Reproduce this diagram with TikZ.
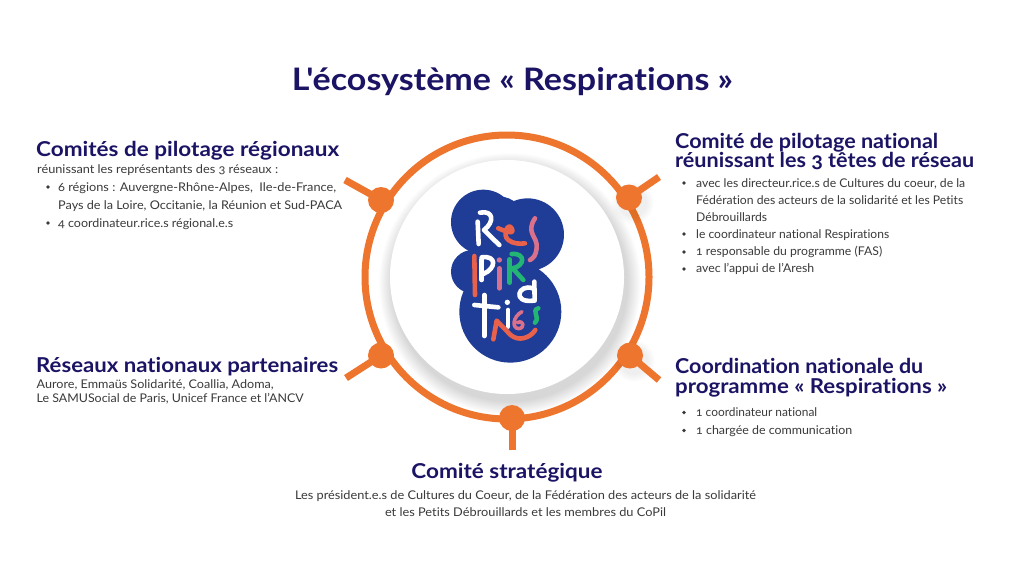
\documentclass[tikz,border=0pt]{standalone}
\usepackage{fontspec}
\usepackage{graphicx}
\setmainfont[Ligatures=NoCommon,Numbers=OldStyle]{Lato}
\newfontfamily\titlef[Ligatures={TeXOff,NoCommon},Numbers=OldStyle]{Lato}
\definecolor{ink}{HTML}{1B1464}
\definecolor{body}{HTML}{3A3A3A}
\definecolor{ringc}{HTML}{EE752E}
\definecolor{blob}{HTML}{1F3C96}
\definecolor{lred}{HTML}{E8614A}
\definecolor{lpink}{HTML}{D9708C}
\definecolor{lgreen}{HTML}{22B573}
\newcommand{\fw}[2]{\resizebox{#1pt}{\height}{#2}}
\tikzset{
 ttl/.style={anchor=base,inner sep=0,text=ink,font=\fontsize{31}{31}\titlef\bfseries},
 head/.style={anchor=base west,inner sep=0,text=ink,font=\fontsize{20.5}{20}\selectfont\bfseries},
 headc/.style={anchor=base,inner sep=0,text=ink,font=\fontsize{20.5}{20}\selectfont\bfseries},
 txt/.style={anchor=base west,inner sep=0,text=body,font=\fontsize{12}{12}\selectfont},
 txtc/.style={anchor=base,inner sep=0,text=body,font=\fontsize{12}{12}\selectfont},
 bul/.style={circle,fill=body,inner sep=0,minimum size=3.6pt},
 hub/.style={circle,fill=ringc,inner sep=0,minimum size=26pt},
 spoke/.style={draw=ringc,line width=7pt},
 ltr/.style={line width=4.6pt,line cap=round,line join=round},
}
\begin{document}
\begin{tikzpicture}[x=1pt,y=-1pt]
\useasboundingbox (0,0) rectangle (1024,576);
\fill[white] (0,0) rectangle (1024,576);
% title
\node[ttl] (title) at (512.5,90) {\fw{441}{L'écosystème « Respirations »}};
% ring
\coordinate (c) at (507,277);
\foreach \i in {20,...,1}{
  \fill[black,opacity=0.008] (510,284) circle ({117+\i*0.7});
}
\fill[white] (c) circle (117);
\draw[ringc,line width=7pt] (c) circle (142);
\foreach \i in {8,...,1}{
  \fill[black,opacity=0.006] (633,203) circle ({13+\i});
  \fill[black,opacity=0.006] (634,361) circle ({13+\i});
}
\coordinate (e1) at (345,180);
\coordinate (e2) at (659,177);
\coordinate (e3) at (346,378);
\coordinate (e4) at (659,380);
\coordinate (e5) at (512,450);
\node[hub] (h1) at (381,200) {};
\node[hub] (h2) at (629,197.5) {};
\node[hub] (h3) at (381,355.5) {};
\node[hub] (h4) at (630,355.5) {};
\node[hub] (h5) at (512,418) {};
\draw[spoke] (h1.center) -- (e1);
\draw[spoke] (h2.center) -- (e2);
\draw[spoke] (h3.center) -- (e3);
\draw[spoke] (h4.center) -- (e4);
\draw[spoke] (h5.center) -- (e5);
% logo blob
\begin{scope}[shift={(340,120)},x=0.3333pt,y=-0.3333pt]
\fill[blob] (430,306) circle[radius=97];
\fill[blob] (563,344) circle[radius=109];
\fill[blob] (398,455) circle[radius=65];
\fill[blob] (511,575) circle[radius=153];
\fill[blob] (490,430) circle[radius=108];
\fill[blob] (480,300) circle[radius=70];
\end{scope}
% logo letters
\begin{scope}[shift={(440,180)},x=0.3333pt,y=-0.3333pt]
\draw[ltr,white] (113,125) -- (116,192);
\draw[ltr,white] (120,98) .. controls (160,90) and (165,125) .. (132,150) -- (178,195);
\draw[ltr,lred] (175,145) .. controls (200,155) and (225,165) .. (215,145) .. controls (205,125) and (185,165) .. (205,180) .. controls (220,192) and (240,192) .. (255,190);
\draw[ltr,lpink] (285,115) .. controls (255,160) and (295,170) .. (290,205) .. controls (288,225) and (280,235) .. (270,240);
\draw[ltr,lred] (103,228) -- (105,345);
\draw[ltr,white] (125,238) -- (125,300);
\draw[ltr,white] (125,232) .. controls (170,225) and (170,265) .. (130,282);
\draw[ltr,lpink] (178,265) -- (178,325);
\fill[lpink] (178,240) circle[radius=8];
\draw[ltr,lgreen] (209,238) -- (209,308);
\draw[ltr,lgreen] (215,222) .. controls (258,218) and (255,258) .. (218,265) -- (250,300);
\draw[ltr,white] (283,305) -- (284,362);
\draw[ltr,white] (278,325) .. controls (235,310) and (215,370) .. (280,362);
\draw[ltr,white] (133,345) -- (133,468);
\draw[ltr,white] (103,375) -- (175,382);
\draw[ltr,white] (204,390) -- (204,440);
\fill[white] (202,367) circle[radius=8];
\draw[ltr,lpink,line width=3.6pt] (246,395) .. controls (218,410) and (215,445) .. (236,446) .. controls (255,445) and (252,418) .. (232,428);
\draw[ltr,lgreen] (295,385) .. controls (272,392) and (302,410) .. (285,428);
\draw[ltr,lred] (160,478) -- (170,422) -- (212,465) .. controls (235,485) and (270,475) .. (286,450);
\end{scope}
% left top
\node[head] (a0) at (36,156) {\fw{303}{Comités de pilotage régionaux}};
\node[txt] (a1) at (37,173.5) {\fw{241}{réunissant les représentants des 3 réseaux :}};
\node[bul] (ab1) at (48,187) {};
\node[txt] (a2) at (58,191) {\fw{278}{6 régions : Auvergne-Rhône-Alpes,\ \ Ile-de-France,}};
\node[txt] (a3) at (58,209) {\fw{284}{Pays de la Loire, Occitanie, la Réunion et Sud-PACA}};
\node[bul] (ab2) at (48,223) {};
\node[txt] (a4) at (58,227) {\fw{175}{4 coordinateur.rice.s régional.e.s}};
% right top
\node[head] (b0) at (675,148) {\fw{263}{Comité de pilotage national}};
\node[head] (b00) at (675,167) {\fw{299}{réunissant les 3 têtes de réseau}};
\node[bul] (bb1) at (684,183) {};
\node[txt] (b1) at (696,187) {\fw{269}{avec les directeur.rice.s de Cultures du coeur, de la}};
\node[txt] (b2) at (696,204) {\fw{267}{Fédération des acteurs de la solidarité et les Petits}};
\node[txt] (b3) at (696,221) {\fw{71}{Débrouillards}};
\node[bul] (bb2) at (684,234) {};
\node[txt] (b4) at (696,238) {\fw{193}{le coordinateur national Respirations}};
\node[bul] (bb3) at (684,252) {};
\node[txt] (b5) at (696,255.5) {\fw{186}{1 responsable du programme (FAS)}};
\node[bul] (bb4) at (684,269) {};
\node[txt] (b6) at (696,272.5) {\fw{118}{avec l'appui de l'Aresh}};
% left bottom
\node[head] (c0) at (36,372) {\fw{302}{Réseaux nationaux partenaires}};
\node[txt] (c1) at (36.5,388) {\fw{237}{Aurore, Emmaüs Solidarité, Coallia, Adoma,}};
\node[txt] (c2) at (36.5,402) {\fw{267}{Le SAMUSocial de Paris, Unicef France et l'ANCV}};
% right bottom
\node[head] (d0) at (675,373) {\fw{248}{Coordination nationale du}};
\node[head] (d00) at (675,393) {\fw{272}{programme « Respirations »}};
\node[bul] (db1) at (684,412.5) {};
\node[txt] (d1) at (696,416) {\fw{121}{1 coordinateur national}};
\node[bul] (db2) at (684,430.5) {};
\node[txt] (d2) at (696,434) {\fw{156}{1 chargée de communication}};
% bottom
\node[headc] (e0) at (507,478) {\fw{191}{Comité stratégique}};
\node[txtc] (e1t) at (525.5,499) {\fw{461}{Les président.e.s de Cultures du Coeur, de la Fédération des acteurs de la solidarité}};
\node[txtc] (e2t) at (525.5,516) {\fw{281}{et les Petits Débrouillards et les membres du CoPil}};
\end{tikzpicture}
\end{document}
